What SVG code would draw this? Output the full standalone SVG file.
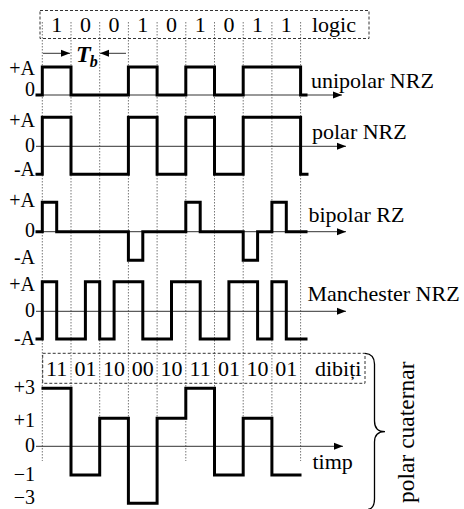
<svg xmlns="http://www.w3.org/2000/svg" width="464" height="509" viewBox="0 0 464 509">
<style>
  .t { font-family: "Liberation Serif", "Times New Roman", serif; fill: #000; }
  .lbl { font-size: 20px; text-anchor: end; }
  .name { font-size: 22px; }
  .bit { font-size: 22px; text-anchor: middle; }
  .wave { fill: none; stroke: #000; stroke-width: 3; stroke-linejoin: miter; stroke-linecap: square; }
  .axis { stroke: #333; stroke-width: 1; fill: none; }
  .grid { stroke: #777; stroke-width: 1; stroke-dasharray: 1.5 1.5; }
  .box { fill: none; stroke: #333; stroke-width: 1; stroke-dasharray: 3 2; }
</style>
<defs>
  <marker id="arr" markerUnits="userSpaceOnUse" markerWidth="10" markerHeight="8" refX="9" refY="4" orient="auto">
    <path d="M0,0.5 L9,4 L0,7.5 z" fill="#000"/>
  </marker>
</defs>
<rect width="464" height="509" fill="#fff"/>

<g id="grid">
  <line class="grid" x1="42.3" y1="22" x2="42.3" y2="461"/>
  <line class="grid" x1="71" y1="22" x2="71" y2="461"/>
  <line class="grid" x1="99.7" y1="22" x2="99.7" y2="461"/>
  <line class="grid" x1="128.4" y1="22" x2="128.4" y2="461"/>
  <line class="grid" x1="157.1" y1="22" x2="157.1" y2="461"/>
  <line class="grid" x1="185.8" y1="22" x2="185.8" y2="461"/>
  <line class="grid" x1="214.5" y1="22" x2="214.5" y2="461"/>
  <line class="grid" x1="243.2" y1="22" x2="243.2" y2="461"/>
  <line class="grid" x1="271.9" y1="22" x2="271.9" y2="461"/>
  <line class="grid" x1="300.6" y1="22" x2="300.6" y2="461"/>
</g>

<g id="logic">
  <rect class="box" x="40" y="10.5" width="329" height="28"/>
  <text class="t bit" y="32"><tspan x="56.7">1</tspan><tspan x="85.4">0</tspan><tspan x="114.1">0</tspan><tspan x="142.8">1</tspan><tspan x="171.5">0</tspan><tspan x="200.2">1</tspan><tspan x="228.9">0</tspan><tspan x="257.6">1</tspan><tspan x="286.3">1</tspan></text>
  <text class="t name" x="312" y="32">logic</text>
</g>

<g id="tb">
  <text class="t" x="76" y="62" font-size="24" font-weight="bold" font-style="italic">T<tspan font-size="16" dy="5" dx="-1">b</tspan></text>
</g>

<g id="connectors">
  <line class="axis" x1="43" y1="53.3" x2="70" y2="53.3" marker-end="url(#arr)" stroke="#000"/>
  <line class="axis" x1="126" y1="53.3" x2="100" y2="53.3" marker-end="url(#arr)" stroke="#000"/>
  <line class="axis" x1="36" y1="95" x2="342" y2="95" marker-end="url(#arr)"/>
  <line class="axis" x1="36" y1="146.3" x2="346" y2="146.3" marker-end="url(#arr)"/>
  <line class="axis" x1="36" y1="231.7" x2="346" y2="231.7" marker-end="url(#arr)"/>
  <line class="axis" x1="36" y1="311.3" x2="346" y2="311.3" marker-end="url(#arr)"/>
  <line class="axis" x1="36" y1="446.3" x2="343" y2="446.3" marker-end="url(#arr)"/>
</g>

<g id="unipolar">
  <text class="t lbl" x="35" y="75">+A</text>
  <text class="t lbl" x="35" y="96">0</text>
  <path class="wave" d="M37,95 H42.3 V67 H71 V95 H128.4 V67 H157.1 V95 H185.8 V67 H214.5 V95 H243.2 V67 H300.6 V95 H306"/>
  <text class="t name" x="311" y="87.5">unipolar NRZ</text>
</g>

<g id="polar">
  <text class="t lbl" x="35" y="126.5">+A</text>
  <text class="t lbl" x="35" y="152">0</text>
  <text class="t lbl" x="35" y="175.5">-A</text>
  <path class="wave" d="M37,174.3 H42.3 V117.3 H71 V174.3 H128.4 V117.3 H157.1 V174.3 H185.8 V117.3 H214.5 V174.3 H243.2 V117.3 H300.6 V174.3 H307"/>
  <text class="t name" x="312" y="138.5">polar NRZ</text>
</g>

<g id="bipolar">
  <text class="t lbl" x="35" y="207">+A</text>
  <text class="t lbl" x="35" y="237">0</text>
  <text class="t lbl" x="35" y="263.5">-A</text>
  <path class="wave" d="M37,231.7 H42.3 V202.3 H56.7 V231.7 H128.4 V260.3 H142.8 V231.7 H185.8 V202.3 H200.2 V231.7 H243.2 V260.3 H257.6 V231.7 H271.9 V202.3 H286.3 V231.7 H306"/>
  <text class="t name" x="308.5" y="221.5">bipolar RZ</text>
</g>

<g id="manchester">
  <text class="t lbl" x="35" y="291">+A</text>
  <text class="t lbl" x="35" y="317">0</text>
  <text class="t lbl" x="35" y="345">-A</text>
  <path class="wave" d="M37,339 H42.3 V281.7 H56.7 V339 H85.4 V281.7 H99.7 V339 H114.1 V281.7 H142.8 V339 H171.5 V281.7 H200.2 V339 H228.9 V281.7 H257.6 V339 H271.9 V281.7 H286.3 V339 H306"/>
  <text class="t name" x="307.5" y="300.5">Manchester NRZ</text>
</g>

<g id="dibits">
  <rect class="box" x="42.7" y="353.3" width="322.3" height="30"/>
  <text class="t bit" y="376"><tspan x="56.7">11</tspan><tspan x="85.4">01</tspan><tspan x="114.1">10</tspan><tspan x="142.8">00</tspan><tspan x="171.5">10</tspan><tspan x="200.2">11</tspan><tspan x="228.9">01</tspan><tspan x="257.6">10</tspan><tspan x="286.3">01</tspan></text>
  <text class="t name" x="315" y="376">dibiți</text>
</g>

<g id="quaternary">
  <text class="t lbl" x="35" y="394">+3</text>
  <text class="t lbl" x="35" y="426.5">+1</text>
  <text class="t lbl" x="35" y="452">0</text>
  <text class="t lbl" x="35" y="481">−1</text>
  <text class="t lbl" x="35" y="504" font-size="19">−3</text>
  <path class="wave" d="M43,388.3 H71 V475 H99.7 V418.3 H128.4 V503.3 H157.1 V418.3 H185.8 V388.3 H214.5 V475 H243.2 V418.3 H271.9 V475 H300"/>
  <text class="t name" x="312.5" y="468.5">timp</text>
</g>

<g id="brace">
  <path d="M365,353.3 Q374.5,354 374.5,364 V421 Q374.5,431.7 385,431.7 Q374.5,431.7 374.5,442 V499 Q374.5,508.5 368,509.5" fill="none" stroke="#000" stroke-width="1.3"/>
  <text class="t" font-size="23.5" transform="translate(414,503) rotate(-90)">polar cuaternar</text>
</g>
</svg>
